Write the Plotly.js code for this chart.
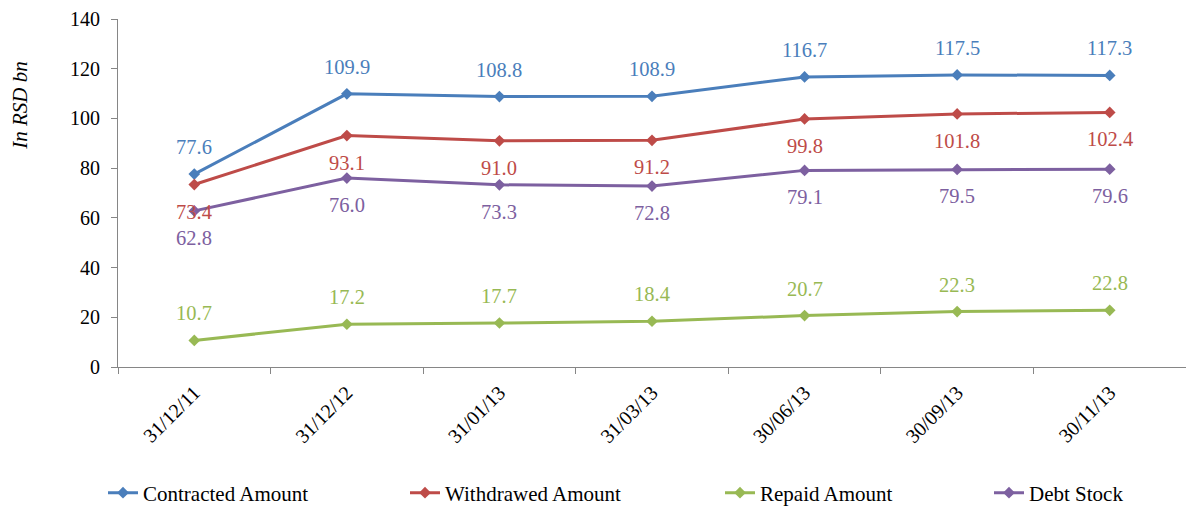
<!DOCTYPE html>
<html>
<head>
<meta charset="utf-8">
<script src="https://cdn.plot.ly/plotly-3.0.1.min.js"></script>
<style>html,body{margin:0;padding:0;background:#fff;}#chart{width:1186px;height:509px;}</style>
</head>
<body>
<div id="chart"></div>
<script>
const categories = ['31/12/11','31/12/12','31/01/13','31/03/13','30/06/13','30/09/13','30/11/13'];
const contracted = [77.6,109.9,108.8,108.9,116.7,117.5,117.3];
const withdrawn = [73.4,93.1,91.0,91.2,99.8,101.8,102.4];
const repaid = [10.7,17.2,17.7,18.4,20.7,22.3,22.8];
const debtStock = [62.8,76.0,73.3,72.8,79.1,79.5,79.6];
const seriesNames = ['Contracted Amount','Withdrawed Amount','Repaid Amount','Debt Stock'];
const seriesColors = ['#4a7ebb','#be4b48','#98b954','#7d60a0'];
const labelSide = [1,-1,1,-1];
const legendTextStart = [145,447,762,1031];

const FONT = '"Liberation Serif", "Times New Roman", serif';
const allSeries = [contracted, withdrawn, repaid, debtStock];

const traces = allSeries.map((vals, i) => ({
  type: 'scatter', mode: 'lines+markers',
  x: categories, y: vals, name: seriesNames[i],
  line: {color: seriesColors[i], width: 3},
  marker: {symbol: 'diamond', size: 9, color: seriesColors[i]},
  legend: i === 0 ? 'legend' : 'legend' + (i + 1),
  hoverinfo: 'skip'
}));

const annotations = [];
allSeries.forEach((vals, i) => {
  vals.forEach((v, j) => {
    annotations.push({
      x: categories[j], y: v, xref: 'x', yref: 'y',
      text: v.toFixed(1), showarrow: false,
      yshift: 27 * labelSide[i],
      font: {family: FONT, size: 20.5, color: seriesColors[i]}
    });
  });
});
annotations.push({
  xref: 'paper', yref: 'paper', x: -0.092, y: 0.753,
  xanchor: 'center', yanchor: 'middle',
  text: '<i>In RSD bn</i>', textangle: -90, showarrow: false,
  font: {family: FONT, size: 21, color: '#000'}
});

const layout = {
  width: 1186, height: 509,
  margin: {l: 118, r: 0, t: 19, b: 142},
  paper_bgcolor: '#fff', plot_bgcolor: '#fff',
  font: {family: FONT, color: '#000'},
  xaxis: {
    type: 'category', range: [-0.5, 6.5],
    showline: true, linecolor: '#868686', linewidth: 1,
    showgrid: false, zeroline: false,
    ticks: 'outside', tickson: 'boundaries', ticklen: 6, tickcolor: '#868686',
    ticklabelstandoff: 5,
    tickangle: -45, tickfont: {family: FONT, size: 20, color: '#000'}
  },
  yaxis: {
    range: [0, 140], dtick: 20, tick0: 0,
    showline: true, linecolor: '#868686', linewidth: 1,
    showgrid: false, zeroline: false,
    ticks: 'outside', ticklen: 6, tickcolor: '#868686',
    ticklabelstandoff: 7,
    tickfont: {family: FONT, size: 20, color: '#000'}
  },
  annotations: annotations,
  showlegend: true
};
seriesNames.forEach((n, i) => {
  const key = i === 0 ? 'legend' : 'legend' + (i + 1);
  layout[key] = {
    xref: 'container', yref: 'container',
    x: (legendTextStart[i] - 42) / 1186, y: 1 - 493 / 509,
    xanchor: 'left', yanchor: 'middle',
    orientation: 'h', bgcolor: 'rgba(0,0,0,0)',
    font: {family: FONT, size: 21, color: '#000'}
  };
});

Plotly.newPlot('chart', traces, layout, {displayModeBar: false, staticPlot: true});
</script>
</body>
</html>
